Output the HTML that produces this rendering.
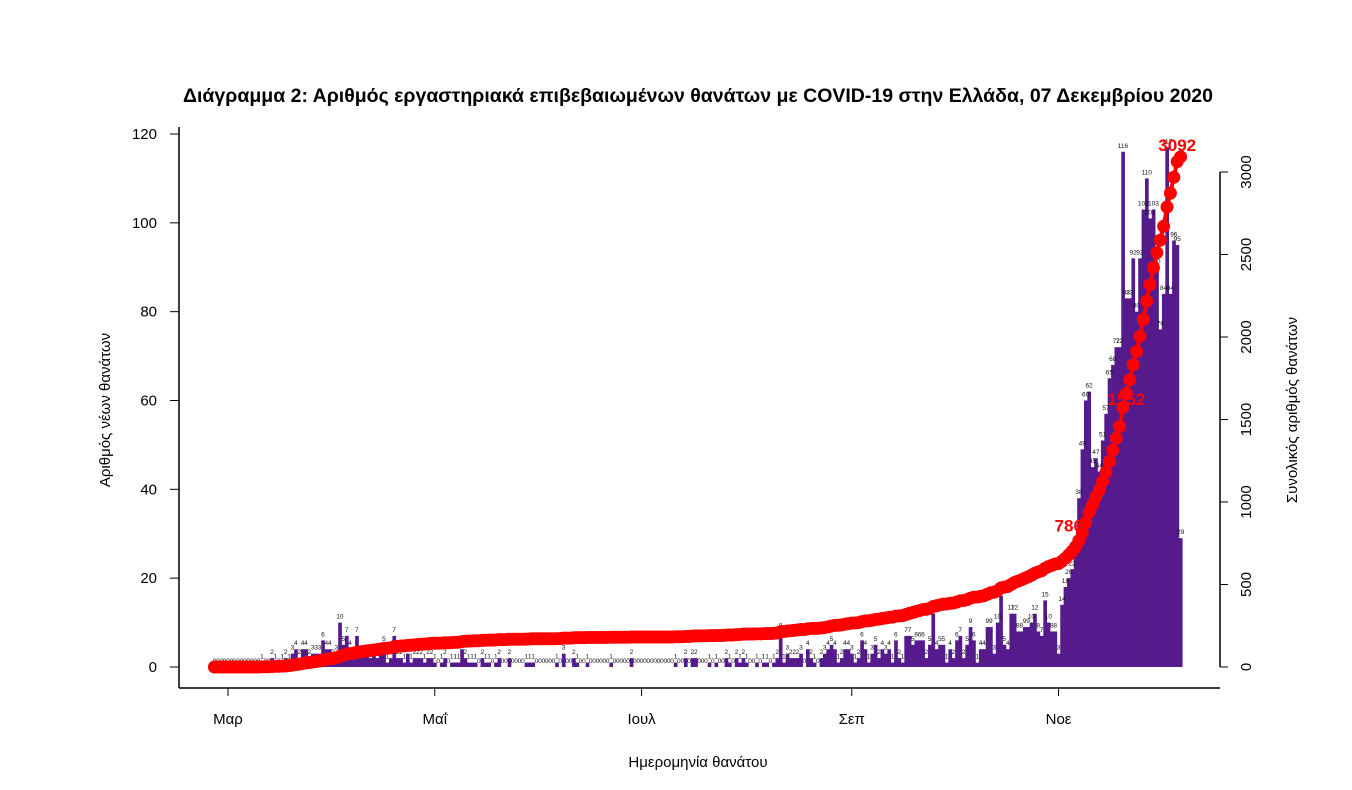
<!DOCTYPE html>
<html><head><meta charset="utf-8"><style>
body{margin:0;background:#fff}
svg{display:block;font-family:"Liberation Sans","DejaVu Sans",sans-serif}
</style></head><body>
<svg id="chart" width="1352" height="790" viewBox="0 0 1352 790">
<text x="698" y="102" text-anchor="middle" font-size="19" font-weight="bold" textLength="1030" lengthAdjust="spacingAndGlyphs">Διάγραμμα 2: Αριθμός εργαστηριακά επιβεβαιωμένων θανάτων με COVID-19 στην Ελλάδα, 07 Δεκεμβρίου 2020</text>
<g id="bars"></g>
<g id="vlabels"></g>
<g id="cum"></g>
<g id="axes"></g>
<text transform="translate(110,410) rotate(-90)" text-anchor="middle" font-size="15">Αριθμός νέων θανάτων</text>
<text transform="translate(1297,410) rotate(-90)" text-anchor="middle" font-size="15">Συνολικός αριθμός θανάτων</text>
<text x="698" y="767" text-anchor="middle" font-size="15">Ημερομηνία θανάτου</text>
</svg>
<script>
const startLabel = "2020-02-26";
const febMar = [0,0,0,0,0,0,0,0,0,0,0,0,0,0, 1,0,0,2,1,0,1,2,1,3,4,2,4,4,2,3,3,3,6,4,4];
const apr = [2,3,10,5,7,4,2,7,2,3,3,2,3,2,3,5,1,2,7,2,2,1,3,1,2,2,2,1,2,2];
const may = [1,0,1,2,0,1,1,1,4,2,1,1,1,0,2,1,1,0,1,2,0,0,2,0,0,0,0,1,1,1,0];
const jun = [0,0,0,0,0,1,0,3,0,0,2,1,0,0,1,0,0,0,0,0,0,1,0,0,0,0,0,2,0,0];
const jul = [0,0,0,0,0,0,0,0,0,0,1,0,0,2,0,2,2,0,0,0,1,0,1,0,0,2,1,0,2,1,2];
const aug = [1,0,0,1,0,1,1,0,1,2,8,1,3,2,2,2,3,0,4,2,1,0,2,3,4,5,4,1,2,4,4];
const sep = [3,1,2,6,4,1,3,5,2,4,3,4,1,6,2,1,7,7,5,6,6,6,2,5,12,4,5,5,1,4];
const oct = [2,6,7,2,5,9,6,1,4,4,9,9,3,10,16,5,4,12,12,8,8,9,9,10,12,8,7,15,10,8,8];
const nov = [3,14,18,20,22,27,38,49,60,62,45,47,44,51,57,65,68,72,72,116,83,83,92,80,92,103,110,101,103,90];
const dec = [76,84,117,84,96,95,29];
const leftTicks = [0,20,40,60,80,100,120];
const rightTicks = [0,500,1000,1500,2000,2500,3000];
const monthLabels = ["Μαρ","Μαΐ","Ιουλ","Σεπ","Νοε"];
const monthDayIdx = [4,65,126,188,249];
const cumLabels = [786,1552,3092];
const cumLabelIdx = [252,269,284];

const daily = [].concat(febMar,apr,may,jun,jul,aug,sep,oct,nov,dec);
const cum=[];let s=0;daily.forEach(v=>{s+=v;cum.push(s);});

const NS="http://www.w3.org/2000/svg";
const px=3.39;
const x=i=>228+(i-4)*px;
const yL=v=>667-v*(533/120);
const yR=v=>667-v*(495/3000);
function mk(tag,attrs,parent,text){const e=document.createElementNS(NS,tag);for(const k in attrs)e.setAttribute(k,attrs[k]);if(text!==undefined)e.textContent=text;parent.appendChild(e);return e;}
const bars=document.getElementById('bars'),vl=document.getElementById('vlabels'),cg=document.getElementById('cum'),ax=document.getElementById('axes');

daily.forEach((v,i)=>{
  if(v>0){const r=mk('rect',{x:x(i)-px/2,y:yL(v),width:px+0.3,height:yL(0)-yL(v),fill:'#551A8B'},bars);
  
  }
  const t=mk('text',{x:x(i),y:yL(v)-4,'text-anchor':'middle','font-size':'6.5',fill:'#111'},vl,String(v));
  
  
});
let d='';cum.forEach((v,i)=>{d+=(i?'L':'M')+x(i).toFixed(1)+','+yR(v).toFixed(1);});
const ln=mk('path',{d:d,stroke:'#ff0000','stroke-width':4,fill:'none'},cg);


cum.forEach((v,i)=>{const c=mk('circle',{cx:x(i),cy:yR(v),r:6.5,fill:'#ff0000'},cg);
  
  });
cumLabels.forEach((v,k)=>{const i=cumLabelIdx[k];const t=mk('text',{x:x(i),y:yR(v)-6,'text-anchor':'middle','font-size':'17','font-weight':'bold',fill:'#ff0000'},cg,String(v));
  
  });

mk('line',{x1:179,y1:127,x2:179,y2:688,stroke:'#000','stroke-width':1.5},ax);
mk('line',{x1:179,y1:688,x2:1220,y2:688,stroke:'#000','stroke-width':1.5},ax);
mk('line',{x1:1220,y1:yR(3000),x2:1220,y2:yR(0),stroke:'#000','stroke-width':1.5},ax);
leftTicks.forEach(v=>{mk('line',{x1:170,y1:yL(v),x2:179,y2:yL(v),stroke:'#000'},ax);
  const t=mk('text',{x:157,y:yL(v)+5,'text-anchor':'end','font-size':'15'},ax,String(v));
  
  });
rightTicks.forEach(v=>{mk('line',{x1:1220,y1:yR(v),x2:1228,y2:yR(v),stroke:'#000'},ax);
  const t=mk('text',{transform:`translate(1251,${yR(v)}) rotate(-90)`,'text-anchor':'middle','font-size':'15'},ax,String(v));
  
  });
monthLabels.forEach((m,k)=>{const xi=x(monthDayIdx[k]);mk('line',{x1:xi,y1:688,x2:xi,y2:696,stroke:'#000'},ax);
  const t=mk('text',{x:xi,y:724,'text-anchor':'middle','font-size':'15'},ax,m);
  
  });
</script>
</body></html>
